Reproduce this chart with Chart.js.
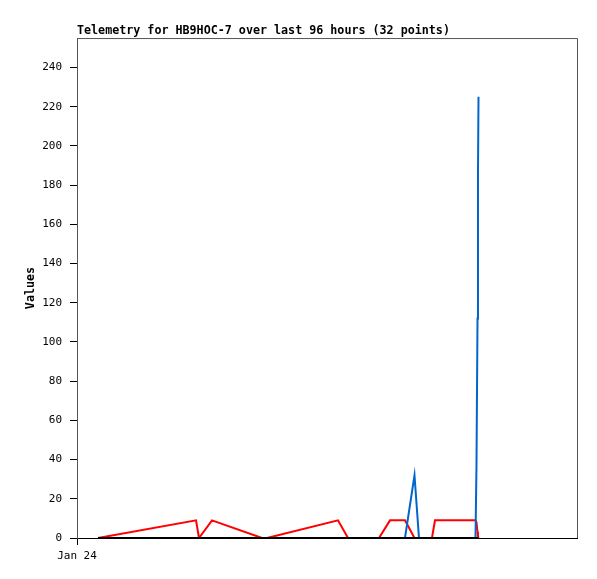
<!DOCTYPE html>
<html>
<head>
<meta charset="utf-8">
<script src="https://cdn.jsdelivr.net/npm/chart.js@4/dist/chart.umd.min.js"></script>
<style>
    html, body { margin: 0; padding: 0; background: #fff; }
    #wrap { width: 597px; height: 579px; }
</style>
</head>
<body>
<div id="wrap"><canvas id="telemetry" width="597" height="579"></canvas></div>
<script>
// Telemetry chart

// hours since Jan 24 00:00
const hours = [5.30, 30.03, 30.78, 34.06, 46.68, 47.94, 65.85, 68.37, 76.19, 78.97,
    82.75, 85.15, 86.28, 89.56, 90.32, 100.54, 100.79, 101.05, 101.17, 101.30];
const redValues = [0, 9, 0, 9, 0, 0, 9, 0, 0, 9,
    9, 0, 0, 0, 9, 9, 8, 3, 1, 0];
const blueValues = [0, 0, 0, 0, 0, 0, 0, 0, 0, 0,
    0, 32, 0, 0, 0, 0, 37, 112, 187, 225];
const blackValues = [0, 0, 0, 0, 0, 0, 0, 0, 0, 0,
    0, 0, 0, 0, 0, 0, 0, 0, 0, 0];

const yTicks = [0, 20, 40, 60, 80, 100, 120, 140, 160, 180, 200, 220, 240];
const xTicks = [0];
const xTickLabels = ['Jan 24'];
const xMax = 126.15;
const yMax = 255;

const titleText = 'Telemetry for HB9HOC-7 over last 96 hours (32 points)';
const yTitle = 'Values';

const mono = '"DejaVu Sans Mono", "Liberation Mono", monospace';

function toPoints(values) {
    return values.map((v, i) => ({ x: hours[i], y: v }));
}

// draws the top and right edges of the plot frame
const framePlugin = {
    id: 'frame',
    afterDraw(chart) {
        const { ctx, chartArea } = chart;
        ctx.save();
        ctx.strokeStyle = '#555';
        ctx.lineWidth = 1;
        ctx.beginPath();
        ctx.moveTo(chartArea.left, chartArea.top + 0.5);
        ctx.lineTo(chartArea.right + 0.5, chartArea.top + 0.5);
        ctx.lineTo(chartArea.right + 0.5, chartArea.bottom);
        ctx.stroke();
        ctx.restore();
    }
};

const lineStyle = {
    borderWidth: 2,
    pointRadius: 0,
    tension: 0,
    fill: false
};

new Chart(document.getElementById('telemetry'), {
    type: 'line',
    data: {
        datasets: [
            Object.assign({ label: 'black', data: toPoints(blackValues), borderColor: '#000000' }, lineStyle),
            Object.assign({ label: 'blue', data: toPoints(blueValues), borderColor: '#0066cc' }, lineStyle),
            Object.assign({ label: 'red', data: toPoints(redValues), borderColor: '#ff0000' }, lineStyle)
        ]
    },
    options: {
        responsive: false,
        animation: false,
        devicePixelRatio: 1,
        layout: { padding: { left: 0, right: 20, top: 0, bottom: 0 } },
        plugins: {
            legend: { display: false },
            tooltip: { enabled: false },
            title: {
                display: true,
                text: titleText,
                align: 'start',
                fullSize: false,
                color: '#000',
                font: { family: mono, size: 11.7, weight: 'bold', lineHeight: 1.2 },
                padding: { top: 24, bottom: 0 }
            }
        },
        scales: {
            x: {
                type: 'linear',
                min: 0,
                max: xMax,
                afterBuildTicks: scale => {
                    scale.ticks = xTicks.map(v => ({ value: v }));
                },
                afterFit: scale => { scale.height = 41; },
                ticks: {
                    color: '#000',
                    padding: 5,
                    maxRotation: 0,
                    autoSkip: false,
                    font: { family: mono, size: 11 },
                    callback: (value) => {
                        const i = xTicks.indexOf(value);
                        return i >= 0 ? xTickLabels[i] : '';
                    }
                },
                grid: { drawOnChartArea: false, color: '#000', tickLength: 7 },
                border: { color: '#000', width: 1 }
            },
            y: {
                type: 'linear',
                min: 0,
                max: yMax,
                afterBuildTicks: scale => {
                    scale.ticks = yTicks.map(v => ({ value: v }));
                },
                afterFit: scale => { scale.width = 77; },
                ticks: {
                    color: '#000',
                    padding: 8,
                    font: { family: mono, size: 11 }
                },
                grid: { drawOnChartArea: false, color: '#000', tickLength: 7 },
                border: { color: '#555', width: 1 },
                title: {
                    display: true,
                    text: yTitle,
                    color: '#000',
                    font: { family: mono, size: 11.7, weight: 'bold', lineHeight: 1.2 },
                    padding: { top: 24, bottom: 0 }
                }
            }
        }
    },
    plugins: [framePlugin]
});
</script>
</body>
</html>
